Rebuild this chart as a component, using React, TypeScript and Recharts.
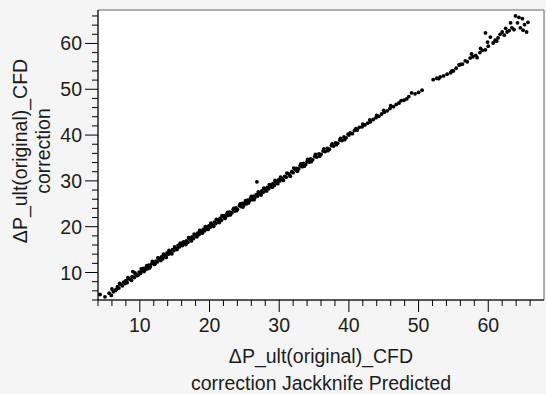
import React from "react"
import {
  ScatterChart,
  Scatter,
  XAxis,
  YAxis,
  CartesianGrid,
  ReferenceArea,
  Label,
} from "recharts"

// Jackknife predicted (x) vs. actual correction (y)
const predicted = [
  4.3, 5.6, 5.9, 6.2, 6.5, 6.8, 7.0, 7.3, 7.5, 7.7, 8.0, 8.2, 8.4, 8.7, 9.0, 8.9, 9.2, 9.4, 9.6, 9.9,
  10.1, 10.3, 10.5, 10.7, 10.9, 11.1, 11.3, 11.5, 11.7, 11.9, 12.1, 12.3, 12.5, 12.7, 12.9, 13.1, 13.3, 13.5, 13.7, 13.9,
  14.1, 14.3, 14.5, 14.7, 14.9, 15.1, 15.3, 15.5, 15.7, 15.9, 16.1, 16.3, 16.5, 16.7, 16.9, 17.1, 17.3, 17.5, 17.7, 17.9,
  18.1, 18.3, 18.5, 18.7, 18.9, 19.1, 19.3, 19.5, 19.7, 19.9, 20.1, 20.3, 20.5, 20.7, 20.9, 21.1, 21.3, 21.5, 21.7, 21.9,
  22.1, 22.3, 22.5, 22.7, 22.9, 23.2, 23.4, 23.6, 23.8, 24.0, 24.3, 24.5, 24.7, 24.9, 25.1, 25.3, 25.5, 25.7, 25.9, 26.1,
  26.3, 26.5, 26.8, 26.7, 26.9, 27.1, 27.3, 27.5, 27.7, 27.9, 28.1, 28.3, 28.5, 28.7, 28.9, 29.1, 29.3, 29.5, 29.7, 29.9,
  30.1, 30.3, 30.5, 30.8, 31.0, 31.3, 31.5, 31.8, 32.0, 32.3, 32.5, 32.8, 33.0, 33.3, 33.5, 33.8, 34.0, 34.3, 34.5, 34.8,
  35.1, 35.4, 35.7, 36.0, 36.3, 36.6, 36.9, 37.2, 37.5, 37.8, 38.1, 38.4, 38.7, 39.0, 39.3, 39.6, 39.9,
  40.2, 40.5, 40.8, 41.2, 41.5, 41.9, 42.3, 42.7, 43.1, 43.5, 43.9, 44.3, 44.7, 45.1, 45.5, 45.9, 46.4, 46.8,
  47.5, 47.9, 48.3, 49.0, 49.5, 50.0, 50.5, 52.1, 52.6, 53.1, 53.6, 54.1, 54.6, 55.0, 55.4, 55.8, 56.3, 56.7, 57.0, 57.4,
  57.8, 58.2, 58.4, 58.8, 59.2, 59.6, 59.6, 59.9, 60.3, 60.7, 61.0, 61.4, 61.7, 62.0, 62.3, 62.7, 63.2, 63.4, 63.9, 64.2,
  64.6, 64.9, 65.2, 65.5, 65.0, 63.7, 62.5, 61.2, 60.0, 58.9, 57.6, 64.4, 65.7, 63.0,
  5.0, 6.0, 6.6, 7.1, 7.9, 8.3, 8.8, 9.3, 9.8, 10.2, 10.6, 11.0, 11.4, 11.8, 12.2, 12.6, 13.0, 13.4, 13.8, 14.2,
  14.6, 15.0, 15.4, 15.8, 16.2, 16.6, 17.0, 17.4, 17.8, 18.2, 18.6, 19.0, 19.4, 19.8, 20.2, 20.6, 21.0, 21.4, 21.8, 22.2,
  22.6, 23.0, 23.5, 23.9, 24.4, 24.8, 25.2, 25.6, 26.0, 26.4, 27.0, 27.4, 27.8, 28.2, 28.6, 29.0, 29.4, 29.8, 30.2, 30.6,
  31.1, 31.6, 32.1, 32.6, 33.1, 33.6, 34.1, 34.6, 35.2, 35.8, 36.4, 37.0, 37.6, 38.2, 38.8, 39.4, 40.0, 41.0, 42.0, 43.0,
  44.0, 45.0, 46.0, 47.2, 48.6, 52.9, 54.8, 56.0,
]

const actual = [
  5.2, 5.5, 5.0, 5.8, 6.1, 6.9, 6.6, 7.4, 7.1, 7.9, 8.2, 7.8, 8.6, 8.5, 10.2, 9.1, 8.9, 9.6, 9.3, 10.1,
  9.8, 10.4, 10.9, 10.5, 11.1, 10.8, 11.6, 11.3, 11.9, 12.2, 11.8, 12.5, 12.3, 13.1, 12.8, 13.4, 13.0, 13.8, 13.5, 14.3,
  14.0, 14.6, 14.2, 15.0, 14.8, 15.3, 15.0, 15.9, 15.6, 16.2, 15.9, 16.7, 16.4, 16.9, 16.6, 17.5, 17.2, 17.8, 17.4, 18.2,
  18.0, 18.6, 18.3, 19.0, 18.7, 19.4, 19.1, 19.8, 19.5, 20.2, 19.9, 20.5, 20.3, 21.0, 20.7, 21.5, 21.1, 21.8, 21.4, 22.2,
  22.4, 22.0, 22.8, 22.5, 23.2, 23.0, 23.7, 23.4, 24.1, 23.8, 24.6, 24.4, 25.1, 24.7, 25.3, 25.0, 25.8, 25.6, 26.2, 25.9,
  26.6, 26.3, 29.8, 27.0, 26.7, 27.4, 27.1, 27.8, 27.5, 28.3, 27.9, 28.6, 28.3, 29.1, 28.8, 29.4, 29.0, 29.8, 29.5, 30.2,
  30.0, 30.6, 30.3, 31.0, 30.8, 31.6, 31.3, 32.0, 31.8, 32.5, 32.7, 32.6, 33.3, 33.1, 33.8, 33.6, 34.2, 34.1, 34.8, 34.6,
  35.3, 35.2, 35.9, 35.8, 36.5, 36.4, 37.1, 36.9, 37.7, 37.6, 38.3, 38.2, 38.9, 38.8, 39.6, 39.4, 40.2,
  40.5, 40.3, 41.0, 41.1, 41.7, 41.8, 42.2, 42.6, 42.9, 43.4, 43.8, 44.1, 44.6, 45.0, 45.3, 45.8, 46.2, 46.7,
  47.5, 47.6, 47.9, 49.2, 49.0, 49.3, 49.8, 52.1, 52.4, 52.7, 52.9, 53.3, 53.6, 54.0, 54.6, 55.3, 55.5, 56.2, 56.0, 56.8,
  57.1, 57.4, 56.9, 58.0, 58.5, 58.6, 62.3, 60.3, 61.4, 60.1, 60.7, 61.2, 62.0, 62.5, 61.8, 62.5, 64.5, 63.4, 66.0, 64.5,
  63.4, 65.4, 64.1, 62.5, 62.9, 63.0, 63.3, 60.5, 59.4, 58.9, 57.7, 65.7, 64.6, 62.8,
  4.7, 6.4, 6.3, 7.6, 7.6, 8.9, 8.3, 9.9, 9.5, 10.8, 10.2, 11.5, 11.0, 12.4, 11.9, 13.2, 12.6, 14.0, 13.3, 14.8,
  14.1, 15.6, 15.2, 16.4, 16.5, 16.1, 17.6, 16.9, 18.4, 17.8, 19.2, 18.6, 20.0, 19.4, 20.8, 20.1, 21.6, 20.9, 22.4, 21.8,
  23.1, 22.6, 24.0, 23.5, 25.0, 24.3, 25.7, 25.2, 26.6, 25.9, 27.6, 26.9, 28.4, 27.8, 29.2, 28.6, 30.1, 29.4, 30.8, 30.1,
  31.7, 31.0, 32.8, 32.1, 33.7, 33.2, 34.7, 34.2, 35.8, 35.4, 37.0, 36.6, 38.1, 37.9, 39.3, 39.0, 40.0, 41.4, 42.4, 43.3,
  44.3, 45.4, 46.4, 47.0, 48.4, 52.3, 54.0, 55.4,
]

const xTicks = [4, 6, 8, 10, 12, 14, 16, 18, 20, 22, 24, 26, 28, 30, 32, 34, 36, 38, 40, 42, 44, 46, 48, 50, 52, 54, 56, 58, 60, 62, 64, 66]
const yTicks = [4, 6, 8, 10, 12, 14, 16, 18, 20, 22, 24, 26, 28, 30, 32, 34, 36, 38, 40, 42, 44, 46, 48, 50, 52, 54, 56, 58, 60, 62, 64, 66]

const axisTitle = "ΔP_ult(original)_CFD"
const yTitle2 = "correction"
const xTitle2 = "correction Jackknife Predicted"

const points = predicted.map((x, i) => ({ x, y: actual[i] }))

const font = "'Liberation Sans', Arial, sans-serif"
const textColor = "#1c1c1c"
const fontSize = 19.5

function XTick(props: any) {
  const { x, y, payload } = props
  const major = payload.value % 10 === 0
  return (
    <g>
      <line x1={x} x2={x} y1={y} y2={y + (major ? 12 : 6)} stroke="#000" />
      {major && (
        <text x={x} y={y + 32} textAnchor="middle" fontFamily={font} fontSize={fontSize} fill={textColor}>
          {payload.value}
        </text>
      )}
    </g>
  )
}

function YTick(props: any) {
  const { x, y, payload } = props
  const major = payload.value % 10 === 0
  return (
    <g>
      <line x1={x - (major ? 13 : 6)} x2={x} y1={y} y2={y} stroke="#000" />
      {major && (
        <text x={x - 16} y={y} dy="0.36em" textAnchor="end" fontFamily={font} fontSize={fontSize} fill={textColor}>
          {payload.value}
        </text>
      )}
    </g>
  )
}

function XTitle(props: any) {
  const { viewBox } = props
  const cx = viewBox.x + viewBox.width / 2
  return (
    <g fontFamily={font} fontSize={fontSize} fill={textColor}>
      <text x={cx} y={363} textAnchor="middle">{axisTitle}</text>
      <text x={cx} y={390} textAnchor="middle">{xTitle2}</text>
    </g>
  )
}

function YTitle() {
  const cy = 151
  return (
    <g fontFamily={font} fontSize={fontSize} fill={textColor}>
      <text x={27} y={cy} textAnchor="middle" transform={`rotate(-90 27 ${cy})`}>{axisTitle}</text>
      <text x={50} y={cy} textAnchor="middle" transform={`rotate(-90 50 ${cy})`}>{yTitle2}</text>
    </g>
  )
}

const Dot = (props: any) => <circle cx={props.cx} cy={props.cy} r={1.9} fill="#000" />

export default function App() {
  return (
    <div style={{ position: "absolute", left: 0, top: 0, width: 546, height: 394, background: "#f5f5f5" }}>
      <ScatterChart width={546} height={394} margin={{ top: 10, right: 2, left: 0, bottom: 0 }}>
        <CartesianGrid fill="#fff" horizontal={false} vertical={false} />
        <ReferenceArea x1={4} x2={68} y1={4} y2={67.3} fill="none" stroke="#666" ifOverflow="visible" />
        <XAxis
          type="number"
          dataKey="x"
          domain={[4, 68]}
          ticks={xTicks}
          interval={0}
          tick={<XTick />}
          tickLine={false}
          tickSize={0}
          tickMargin={0}
          axisLine={{ stroke: "#000" }}
          height={94}
          allowDataOverflow
        >
          <Label content={<XTitle />} />
        </XAxis>
        <YAxis
          type="number"
          dataKey="y"
          domain={[4, 67.3]}
          ticks={yTicks}
          interval={0}
          tick={<YTick />}
          tickLine={false}
          tickSize={0}
          tickMargin={0}
          axisLine={{ stroke: "#000" }}
          width={98}
          allowDataOverflow
        >
          <Label content={<YTitle />} />
        </YAxis>
        <Scatter data={points} shape={Dot} isAnimationActive={false} />
      </ScatterChart>
    </div>
  )
}
